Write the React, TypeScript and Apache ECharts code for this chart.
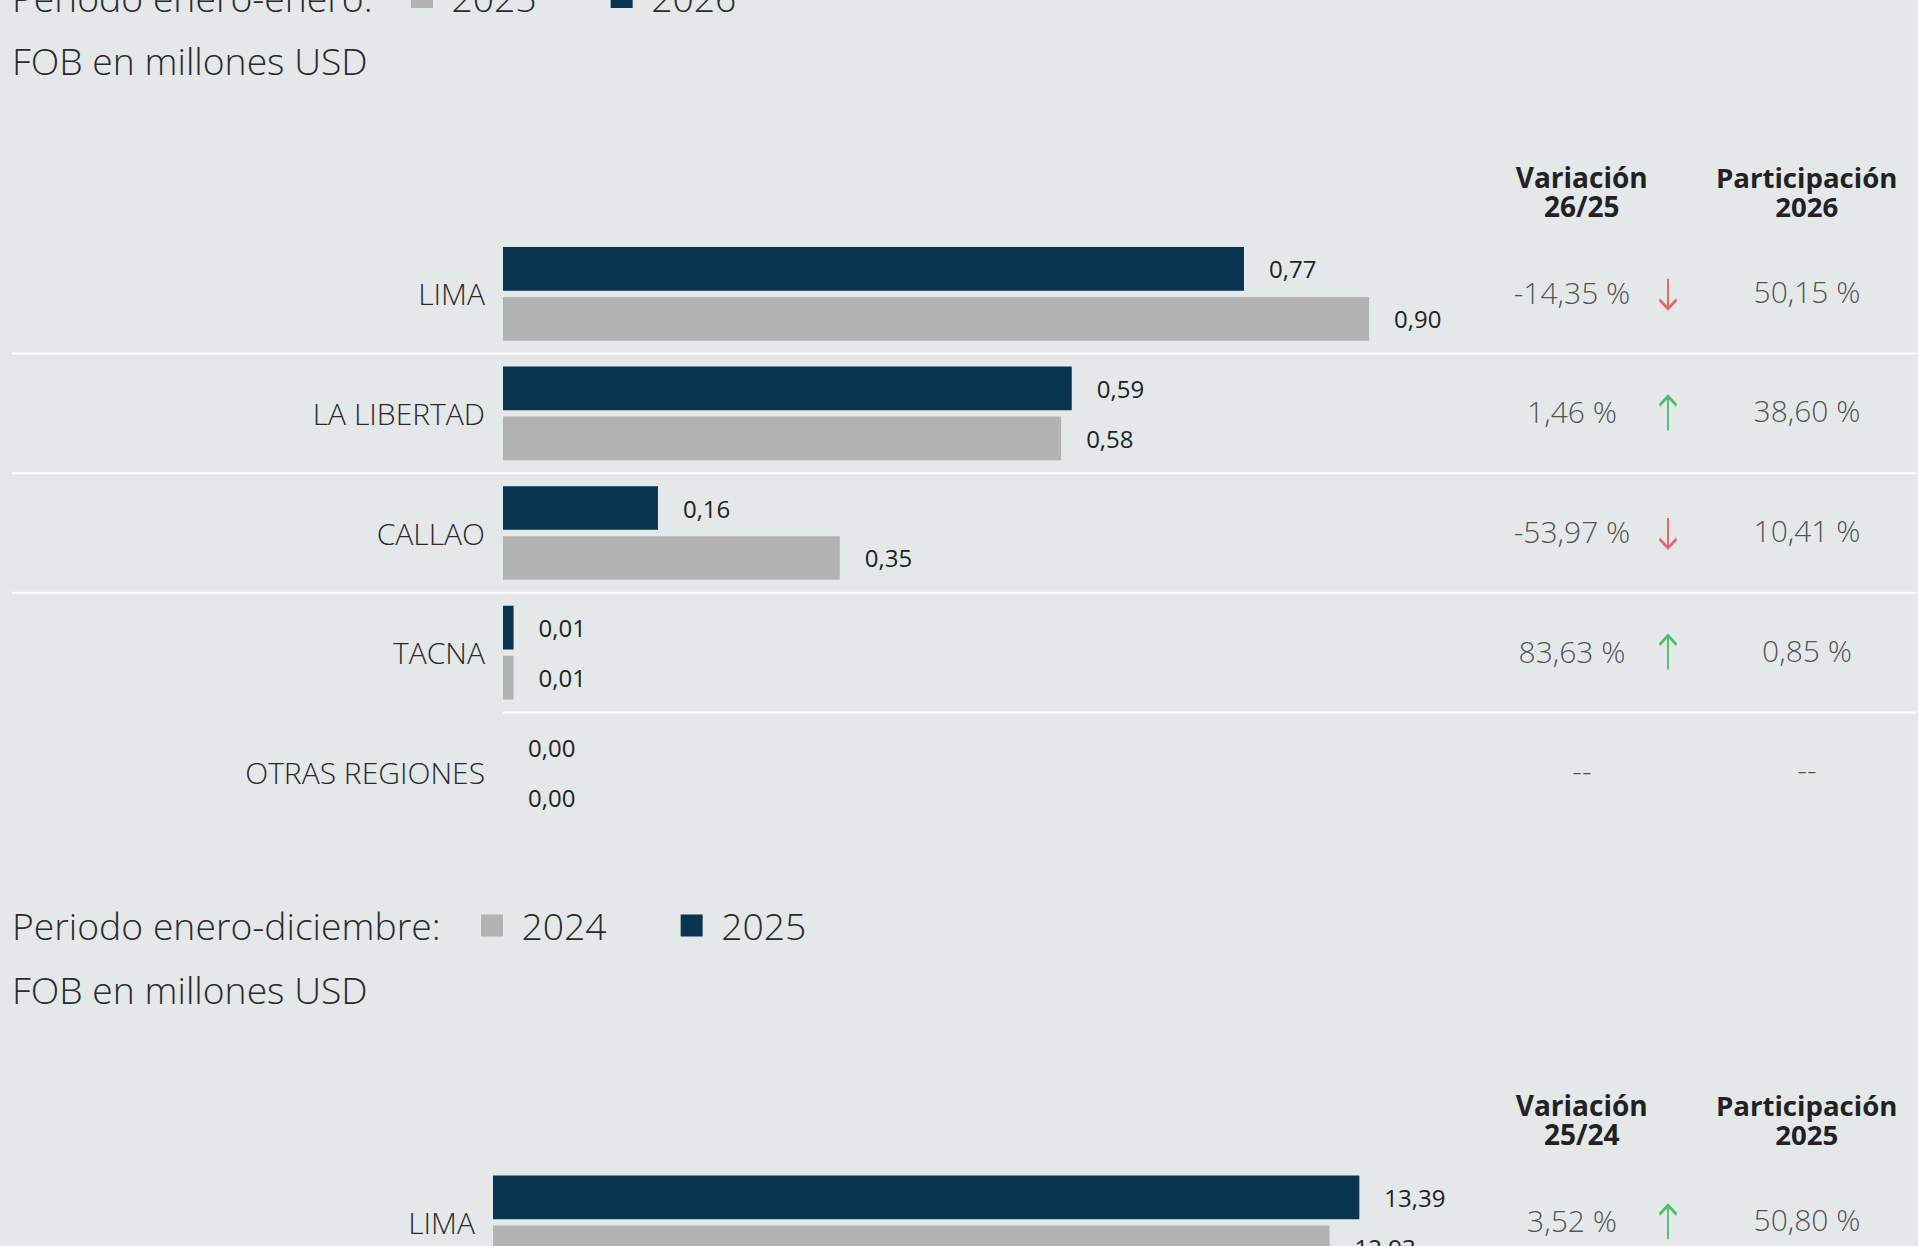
import React, { useEffect, useRef } from "react";
import * as echarts from "echarts";

const W = 1918;
const H = 1246;

// ---------- Panel 1: periodo enero-enero ----------
const regionsTop = ["LIMA", "LA LIBERTAD", "CALLAO", "TACNA", "OTRAS REGIONES"];
const fob2026Top = [0.77, 0.591, 0.161, 0.011, 0.0];
const fob2025Top = [0.9, 0.58, 0.35, 0.011, 0.0];
const variacionTop = ["-14,35 %", "1,46 %", "-53,97 %", "83,63 %", "--"];
const tendenciaTop = ["down", "up", "down", "up", null];
const participacionTop = ["50,15 %", "38,60 %", "10,41 %", "0,85 %", "--"];
const yearsTop = ["2025", "2026"];

// ---------- Panel 2: periodo enero-diciembre ----------
const regionsBottom = ["LIMA"];
const fob2025Bottom = [13.39];
const fob2024Bottom = [12.93];
const variacionBottom = ["3,52 %"];
const tendenciaBottom = ["up"];
const participacionBottom = ["50,80 %"];
const yearsBottom = ["2024", "2025"];

const FONT = "'Open Sans', 'Noto Sans', sans-serif";
const TEXT = "#2b2b2b";
const DARK = "#08344f";
const GRAY = "#b3b3b3";
const BG = "#e4e8e9";
const RED = "#e2474a";
const GREEN = "#2bb24c";

const DOWN_PATH = "path://M9 0 L9 30 M0 21 L9 30 L18 21";
const UP_PATH = "path://M9 34 L9 0 M0 9 L9 0 L18 9";

const fmt = (v: number) => v.toFixed(2).replace(".", ",");

type PanelCfg = {
  period: string;
  years: string[];
  regions: string[];
  cur: number[];
  prev: number[];
  variacion: string[];
  tendencia: (string | null)[];
  participacion: string[];
  headVar: string;
  headPart: string;
  offsetY: number;
  barLeft: number;
  xMax: number;
  pxPerUnit: number;
  legendLeft: number;
};

function buildOption(p: PanelCfg) {
  const oy = p.offsetY;
  const band = 119.6;
  const n = p.regions.length;
  const gridTop = oy + 234;
  const gridH = band * n;
  const colVar = 1572;
  const colDash = 1582;
  const colArrow = 1668;
  const colPart = 1807;
  const baseText = { fontFamily: FONT, fontWeight: 300, color: TEXT };
  const bigFont = 37.3;

  const separators = p.regions.slice(1).map((_, k) => [k === n - 2 ? p.barLeft : 12, k + 1, W - 2]);

  return {
    animation: false,
    backgroundColor: "transparent",
    title: [
      {
        text: p.period,
        left: 12,
        top: oy - 3 - bigFont / 2,
        padding: 0,
        textStyle: { ...baseText, fontSize: bigFont, lineHeight: bigFont },
      },
      {
        text: "FOB en millones USD",
        left: 12,
        top: oy + 60.5 - bigFont / 2,
        padding: 0,
        textStyle: { ...baseText, fontSize: bigFont, lineHeight: bigFont },
      },
    ],
    legend: {
      data: [p.years[0], p.years[1]],
      left: p.legendLeft,
      top: oy - 3 - bigFont / 2,
      padding: 0,
      icon: "rect",
      itemWidth: 22,
      itemHeight: 22,
      itemGap: 74,
      selectedMode: false,
      textStyle: { ...baseText, fontSize: bigFont, lineHeight: bigFont, padding: [0, 0, 0, 13.5] },
    },
    graphic: [
      {
        type: "text",
        x: 1581.7,
        y: oy + 191.3,
        style: {
          text: p.headVar,
          align: "center",
          verticalAlign: "middle",
          fontFamily: FONT,
          fontWeight: "bold",
          fontSize: 28,
          lineHeight: 28.7,
          fill: "#222222",
        },
      },
      {
        type: "text",
        x: 1806.7,
        y: oy + 191.3,
        style: {
          text: p.headPart,
          align: "center",
          verticalAlign: "middle",
          fontFamily: FONT,
          fontWeight: "bold",
          fontSize: 27.6,
          lineHeight: 28.7,
          fill: "#222222",
        },
      },
    ],
    grid: [
      { left: p.barLeft, top: gridTop, height: gridH, width: p.xMax * p.pxPerUnit, containLabel: false },
      { left: 0, top: gridTop, height: gridH, right: 0, containLabel: false },
    ],
    xAxis: [
      { gridIndex: 0, type: "value", min: 0, max: p.xMax, show: false },
      { gridIndex: 1, type: "value", min: 0, max: W, show: false },
    ],
    yAxis: [
      {
        gridIndex: 0,
        type: "category",
        data: p.regions,
        inverse: true,
        axisLine: { show: false },
        axisTick: { show: false },
        splitLine: { show: false },
        axisLabel: { ...baseText, fontSize: 30, margin: 18, padding: [0, 0, 6, 0] },
      },
      { gridIndex: 1, type: "category", data: p.regions, inverse: true, show: false },
    ],
    series: [
      {
        name: p.years[1],
        type: "bar",
        xAxisIndex: 0,
        yAxisIndex: 0,
        data: p.cur,
        barWidth: 43.7,
        barGap: "14.4%",
        itemStyle: { color: DARK },
        label: {
          show: true,
          position: "right",
          distance: 25,
          formatter: (pr: any) => fmt(pr.value),
          fontFamily: FONT,
          fontSize: 24,
          color: "#222222",
        },
        silent: true,
      },
      {
        name: p.years[0],
        type: "bar",
        xAxisIndex: 0,
        yAxisIndex: 0,
        data: p.prev,
        barWidth: 43.7,
        barGap: "14.4%",
        itemStyle: { color: GRAY },
        label: {
          show: true,
          position: "right",
          distance: 25,
          formatter: (pr: any) => fmt(pr.value),
          fontFamily: FONT,
          fontSize: 24,
          color: "#222222",
        },
        silent: true,
      },
      {
        type: "custom",
        xAxisIndex: 1,
        yAxisIndex: 1,
        clip: false,
        silent: true,
        data: separators,
        renderItem: (params: any, api: any) => {
          const idx = api.value(1);
          const start = api.coord([api.value(0), idx - 1]);
          const end = api.coord([api.value(2), idx - 1]);
          const h = api.size([0, 1])[1];
          const y = start[1] + h / 2;
          return {
            type: "line",
            shape: { x1: start[0], y1: y, x2: end[0], y2: y },
            style: { stroke: "#ffffff", lineWidth: 2 },
          };
        },
        z: 0,
      },
      {
        type: "scatter",
        xAxisIndex: 1,
        yAxisIndex: 1,
        silent: true,
        symbolSize: 1,
        itemStyle: { color: "rgba(0,0,0,0)" },
        data: p.variacion.map((v, i) => [v === "--" ? colDash : colVar, i]),
        label: {
          show: true,
          position: "inside",
          offset: [0, -1.5],
          formatter: (pr: any) => p.variacion[pr.dataIndex],
          ...baseText,
          fontSize: 30,
        },
      },
      {
        type: "scatter",
        xAxisIndex: 1,
        yAxisIndex: 1,
        silent: true,
        data: p.tendencia
          .map((t, i) =>
            t === null
              ? null
              : {
                  value: [colArrow, i],
                  symbol: t === "up" ? UP_PATH : DOWN_PATH,
                  symbolSize: t === "up" ? [17, 34] : [17, 30],
                  itemStyle: {
                    color: "rgba(0,0,0,0)",
                    borderColor: t === "up" ? GREEN : RED,
                    borderWidth: 2.6,
                  },
                }
          )
          .filter((d) => d !== null),
      },
      {
        type: "scatter",
        xAxisIndex: 1,
        yAxisIndex: 1,
        silent: true,
        symbolSize: 1,
        itemStyle: { color: "rgba(0,0,0,0)" },
        data: p.participacion.map((_, i) => [colPart, i]),
        label: {
          show: true,
          position: "inside",
          offset: [0, -2.5],
          formatter: (pr: any) => p.participacion[pr.dataIndex],
          ...baseText,
          fontSize: 30,
        },
      },
    ],
  };
}

const topCfg: PanelCfg = {
  period: "Periodo enero-enero:",
  years: yearsTop,
  regions: regionsTop,
  cur: fob2026Top,
  prev: fob2025Top,
  variacion: variacionTop,
  tendencia: tendenciaTop,
  participacion: participacionTop,
  headVar: "Variación\n26/25",
  headPart: "Participación\n2026",
  offsetY: 0,
  barLeft: 503,
  xMax: 1,
  pxPerUnit: 962.3,
  legendLeft: 411,
};

const bottomCfg: PanelCfg = {
  period: "Periodo enero-diciembre:",
  years: yearsBottom,
  regions: regionsBottom,
  cur: fob2025Bottom,
  prev: fob2024Bottom,
  variacion: variacionBottom,
  tendencia: tendenciaBottom,
  participacion: participacionBottom,
  headVar: "Variación\n25/24",
  headPart: "Participación\n2025",
  offsetY: 48.5,
  barLeft: 493,
  xMax: 15,
  pxPerUnit: 64.7,
  legendLeft: 481,
};

function Panel({ cfg, top, height }: { cfg: PanelCfg; top: number; height: number }) {
  const ref = useRef<HTMLDivElement>(null);
  useEffect(() => {
    const chart = echarts.init(ref.current as HTMLDivElement, null, { renderer: "svg" });
    chart.setOption(buildOption(cfg) as any);
    return () => chart.dispose();
  }, []);
  return (
    <div
      ref={ref}
      style={{ position: "absolute", left: 0, top, width: W, height, overflow: "hidden" }}
    />
  );
}

export default function App() {
  return (
    <div
      style={{
        position: "fixed",
        left: 0,
        top: 0,
        width: W,
        height: H,
        background: BG,
        overflow: "hidden",
      }}
    >
      <Panel cfg={topCfg} top={0} height={880} />
      <Panel cfg={bottomCfg} top={880} height={460} />
    </div>
  );
}
